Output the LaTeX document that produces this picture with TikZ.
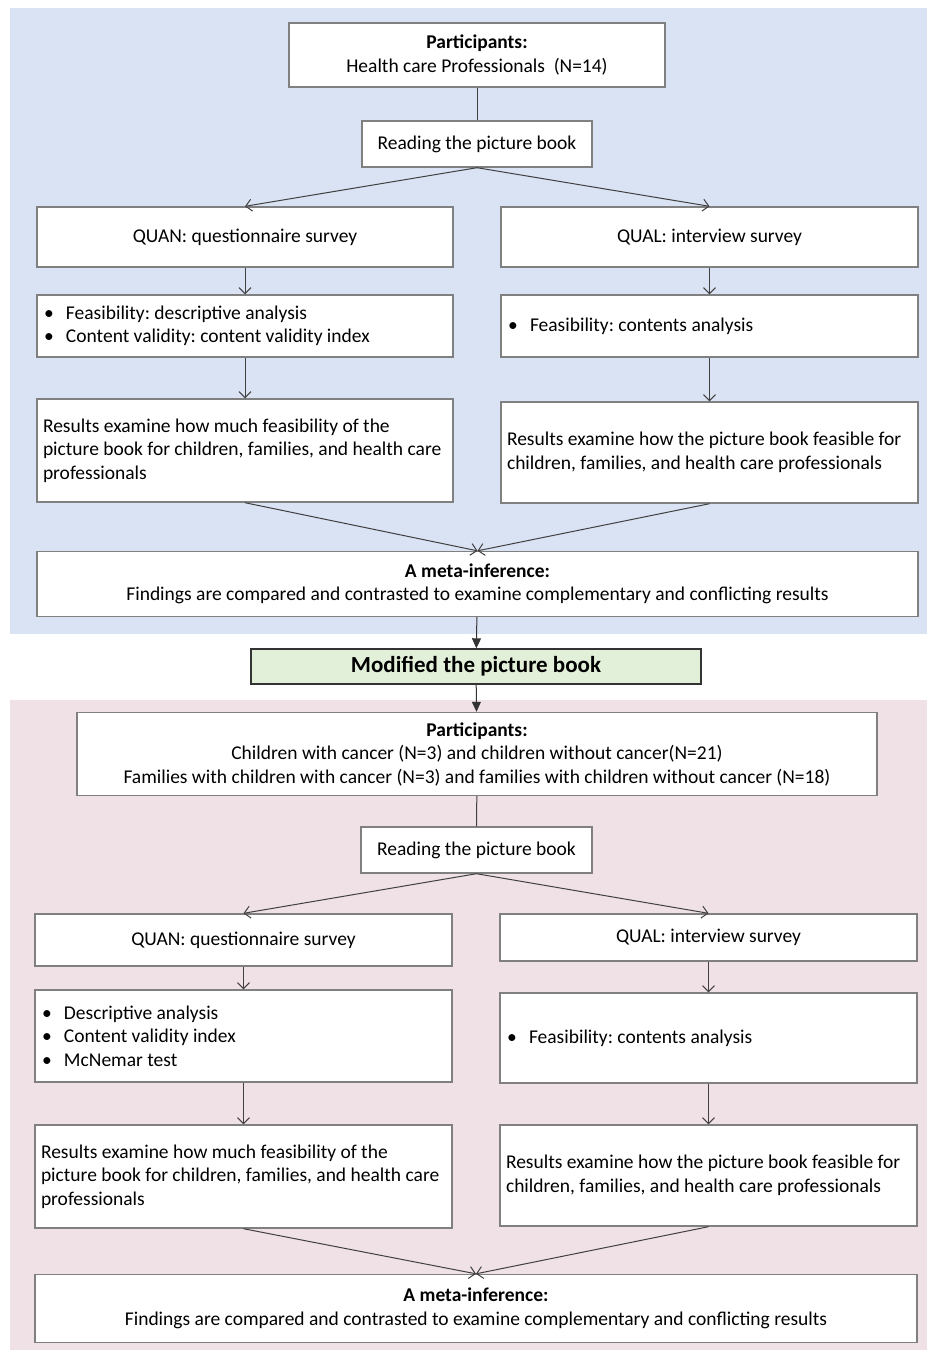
\documentclass[tikz,border=0pt]{standalone}
\usepackage{fontspec}
\setmainfont{Carlito}
\usetikzlibrary{arrows.meta}
\definecolor{bgblue}{HTML}{DAE3F3}
\definecolor{bgpink}{HTML}{F0E1E6}
\definecolor{boxgreen}{HTML}{E2F0D9}
\definecolor{linegray}{HTML}{808080}
\newcommand{\bul}{\hspace{0.5pt}\makebox[11pt][l]{\textbullet}}
\frenchspacing
\begin{document}
\begin{tikzpicture}[x=0.5pt,y=-0.5pt,
  box/.style={draw=linegray, fill=white, line width=0.7pt, inner xsep=3pt, inner ysep=0pt,
    font=\fontsize{9.75}{11.75}\selectfont, align=center},
  lbox/.style={box, align=flush left, inner xsep=3pt},
  open/.style={draw=black!75, line width=0.5pt, -{Straight Barb[length=3pt,width=6pt]}},
  solid/.style={draw=black!80, line width=0.5pt, -{Triangle[length=5pt,width=4.5pt]}}]
\useasboundingbox (0,0) rectangle (927,1350);
\fill[bgblue] (10,8) rectangle (927,634);
\fill[bgpink] (10,700) rectangle (927,1350);

\node[box, minimum width=188pt, minimum height=32pt] (P1) at (477,55) {\textbf{Participants:}\\Health care Professionals\ \ (N=14)};
\node[box, minimum width=115pt, minimum height=23pt] (R1) at (477,144) {Reading the picture book};
\node[box, minimum width=208pt, minimum height=30pt] (QN1) at (245,237) {QUAN: questionnaire survey};
\node[box, minimum width=208.5pt, minimum height=30pt] (QL1) at (709.5,237) {QUAL: interview survey};
\node[lbox, text width=202pt, minimum height=31pt] (A1) at (245,326) {\bul Feasibility: descriptive analysis\\\bul Content validity: content validity index};
\node[lbox, text width=202.5pt, minimum height=31pt] (B1) at (709.5,326) {\bul Feasibility: contents analysis};
\node[lbox, text width=202pt, minimum height=51.5pt] (C1) at (245,450.5) {Results examine how much feasibility of the picture book for children, families, and health care professionals};
\node[lbox, text width=202.5pt, minimum height=50.5pt] (D1) at (709.5,452.5) {Results examine how the picture book feasible for children, families, and health care professionals};
\node[box, minimum width=440.5pt, minimum height=32.5pt] (M1) at (477.5,584) {\textbf{A meta-inference:}\\Findings are compared and contrasted to examine complementary and conflicting results};

\node[box, draw=black!80, fill=boxgreen, minimum width=225pt, minimum height=17.5pt, font=\fontsize{11.5}{13}\selectfont\bfseries] (Mod) at (476,666.5) {Modified the picture book};

\node[box, minimum width=400pt, minimum height=41.5pt] (P2) at (477,754) {\textbf{Participants:}\\Children with cancer (N=3) and children without cancer(N=21)\\Families with children with cancer (N=3) and families with children without cancer (N=18)};
\node[box, minimum width=115.5pt, minimum height=23pt] (R2) at (476.5,850) {Reading the picture book};
\node[box, minimum width=208.5pt, minimum height=26pt] (QN2) at (243.5,940) {QUAN: questionnaire survey};
\node[box, minimum width=208.5pt, minimum height=23.5pt] (QL2) at (708.5,937.5) {QUAL: interview survey};
\node[lbox, text width=202.5pt, minimum height=46pt] (A2) at (243.5,1036) {\bul Descriptive analysis\\\bul Content validity index\\\bul McNemar test};
\node[lbox, text width=202.5pt, minimum height=45pt] (B2) at (708.5,1038) {\bul Feasibility: contents analysis};
\node[lbox, text width=202.5pt, minimum height=51.5pt] (C2) at (243.5,1176.5) {Results examine how much feasibility of the picture book for children, families, and health care professionals};
\node[lbox, text width=202.5pt, minimum height=50.5pt] (D2) at (708.5,1175.5) {Results examine how the picture book feasible for children, families, and health care professionals};
\node[box, minimum width=441pt, minimum height=34pt] (M2) at (476,1308.5) {\textbf{A meta-inference:}\\Findings are compared and contrasted to examine complementary and conflicting results};

\draw[black!75, line width=0.5pt] (P1) -- (R1);
\draw[black!75, line width=0.5pt] (P2) -- (R2);
\foreach \a/\b in {R1/QN1,R1/QL1,QN1/A1,QL1/B1,A1/C1,B1/D1,R2/QN2,R2/QL2,QN2/A2,QL2/B2,A2/C2,B2/D2}
  \draw[open] (\a.south) -- (\b.north);
\foreach \a/\b in {C1/M1,D1/M1,C2/M2,D2/M2}
  \draw[open] (\a.south) -- (\b.north);
\draw[solid] (M1) -- (Mod);
\draw[solid] (Mod) -- (P2);
\end{tikzpicture}
\end{document}
